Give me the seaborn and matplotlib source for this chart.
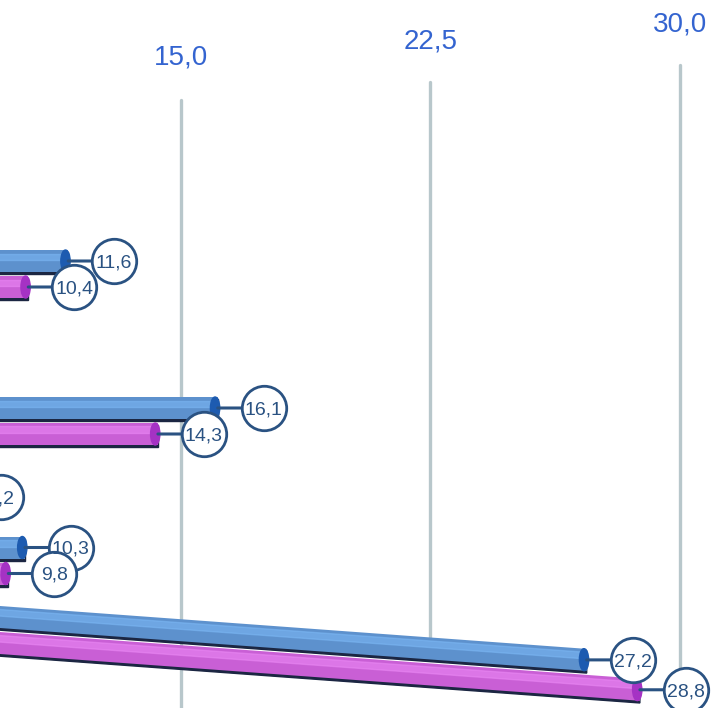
import numpy as np
import pandas as pd
import seaborn as sns
import matplotlib.pyplot as plt
from matplotlib import transforms
from matplotlib.patches import Rectangle, Ellipse

groups = ["g1", "g2", "g3", "g4", "g5"]
blue_vals = [11.6, 16.1, 8.2, 10.3, 27.2]
pink_vals = [10.4, 14.3, np.nan, 9.8, 28.8]
tick_vals = [15.0, 22.5, 30.0]
tick_labels = ["15,0", "22,5", "30,0"]

# layout of the (perspective) view: rows squeeze together lower down, last row tilts
row_pos = [2.74, 4.21, 5.10, 5.605, 6.30]
row_tilt = [0, 0, 0, 0, 0.0243]
series_off = {"blue": -0.13, "pink": 0.13}
colors = {"blue": "#4a8fe0", "pink": "#d84ce8"}
cap_colors = {"blue": "#1d5bb0", "pink": "#a532c4"}
light = {"blue": "#7db9f6", "pink": "#ec8af6"}
ink = "#2a5282"
X0, X1 = 9.55, 31.15
BAR_H = 0.22
LBL_DX = 46

# gridline extents / tick label heights, in axes fractions
grid_top = [0.859, 0.884, 0.908]
grid_bot = [0.0, 0.096, 0.04]
tick_y = [0.919, 0.941, 0.965]

df = pd.DataFrame({
    "group": groups * 2,
    "series": ["blue"] * len(groups) + ["pink"] * len(groups),
    "value": blue_vals + pink_vals,
})
df["tilt"] = df.group.map(dict(zip(groups, row_tilt)))
df["row"] = df.group.map(dict(zip(groups, row_pos))) + df.series.map(series_off)
df = df.dropna().reset_index(drop=True)

sns.set_theme(style="white")
plt.rcParams["font.family"] = ["Liberation Sans", "DejaVu Sans"]

fig = plt.figure(figsize=(7.18, 7.08), dpi=100)
ax = fig.add_axes([0, 0, 1, 1])

sns.barplot(data=df, x="value", y="row", hue="series", palette=colors,
            orient="h", native_scale=True, dodge=False, errorbar=None,
            legend=False, ax=ax, zorder=3, linewidth=0)
ax.set_xlim(X0, X1)
ax.set_ylim(7.08, 0)
ax.axis("off")

for i, v in enumerate(tick_vals):
    ax.axvline(v, ymin=grid_bot[i], ymax=grid_top[i], color="#b8c7cb", lw=2.4, zorder=1)
    ax.text(v, tick_y[i], tick_labels[i], transform=ax.get_xaxis_transform(),
            ha="center", va="center", fontsize=20, color="#3464d0")

off = transforms.offset_copy(ax.transData, fig=fig, x=LBL_DX, y=0, units="dots")

for p in list(ax.patches):
    yc = p.get_y() + p.get_height() / 2
    v = p.get_width()
    r = df.iloc[(df.row - yc).abs().argmin()]
    k, s = r.tilt, r.series
    tr = transforms.Affine2D(np.array([[1, 0, 0], [k, 1, -k * X0], [0, 0, 1]])) + ax.transData
    p.set_y(yc - BAR_H / 2)
    p.set_height(BAR_H)
    p.set_transform(tr)
    ax.add_patch(Rectangle((0, yc - BAR_H / 2 + 0.022), v, BAR_H, color="#1b2642",
                           zorder=2, transform=tr))
    ax.add_patch(Rectangle((0, yc - BAR_H / 2 + 0.035), v, BAR_H * 0.3, color=light[s],
                           alpha=0.55, zorder=3.5, transform=tr))
    ax.add_patch(Ellipse((v - 0.08, yc), 0.28, BAR_H, color=cap_colors[s],
                         zorder=4, transform=tr))

    yl = yc + k * (v - X0)
    lbl = f"{v:.1f}".replace(".", ",")
    ax.annotate("", xy=(v, yl), xytext=(LBL_DX, 0), textcoords="offset pixels",
                arrowprops=dict(arrowstyle="-", color=ink, lw=2.2, shrinkA=0, shrinkB=0),
                zorder=5)
    ax.plot([v], [yl], "o", ms=32, mfc="white", mec=ink, mew=2, transform=off, zorder=6)
    ax.text(v, yl, lbl, transform=off, ha="center", va="center_baseline",
            fontsize=14, color=ink, zorder=7)

fig.savefig("out.png", dpi=100)
